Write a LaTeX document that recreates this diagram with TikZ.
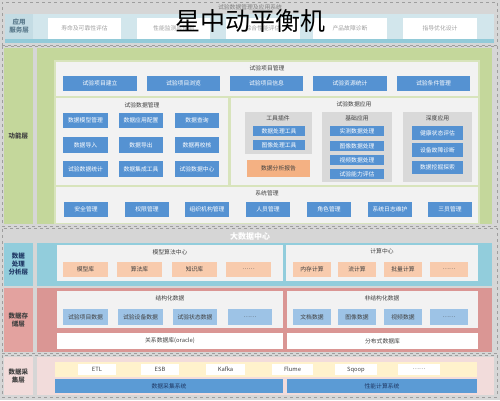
\documentclass[tikz,border=0pt]{standalone}
\usepackage{fontspec}
\setmainfont{Noto Sans CJK SC}
\definecolor{bggray}{HTML}{D6D6D6}
\definecolor{dashcol}{HTML}{9E9E9E}
\definecolor{Lblue}{HTML}{D2E6EC}
\definecolor{Lbluedark}{HTML}{92CAD8}
\definecolor{Lbluelab}{HTML}{C4DCE4}
\definecolor{Llabtext}{HTML}{5A7A8C}
\definecolor{apptext}{HTML}{A0A0A0}
\definecolor{fgreen}{HTML}{C4D79B}
\definecolor{fgreen2}{HTML}{D8E4BC}
\definecolor{panelc}{HTML}{F2F2F2}
\definecolor{subgray}{HTML}{D9D9D9}
\definecolor{btnblue}{HTML}{5592D2}
\definecolor{orng}{HTML}{F4B183}
\definecolor{procblue}{HTML}{92CDDC}
\definecolor{peach}{HTML}{F8CBAD}
\definecolor{redreg}{HTML}{DA9694}
\definecolor{redlab}{HTML}{E3A29F}
\definecolor{lbblue}{HTML}{9DC3E6}
\definecolor{pinkreg}{HTML}{F2DCDB}
\definecolor{yellowb}{HTML}{FFF2CC}
\definecolor{barblue}{HTML}{5B9BD5}
\definecolor{darktext}{HTML}{404040}
\definecolor{navy}{HTML}{1F3864}
\tikzset{
  box/.style={rectangle, inner sep=0pt, outer sep=0pt, align=center, font=\fontsize{5.8}{7}\selectfont},
  layer/.style={box, fill=bggray, draw=dashcol, dashed, line width=0.8pt},
  fbtn/.style={box, fill=btnblue, text=white},
  pbtn/.style={box, fill=peach, text=darktext},
  sbtn/.style={box, fill=lbblue, text=darktext},
  wbox/.style={box, fill=white, text=darktext},
  panel/.style={box, fill=panelc},
  lab/.style={box, font=\fontsize{6.5}{8}\selectfont\bfseries},
  ttl/.style={inner sep=0pt, outer sep=0pt, font=\fontsize{5.8}{7}\selectfont, text=darktext}
}
\newcommand\bx[7]{\node[#6, minimum width={(#4-#2)*1pt}, minimum height={(#5-#3)*1pt}] (#1) at ({(#2+#4)/2},{(#3+#5)/2}) {#7};}
\begin{document}
\begin{tikzpicture}[x=1pt,y=-1pt]
\useasboundingbox (0,0) rectangle (500,400);
\fill[bggray] (0,0) rectangle (500,400);
% ---------- application layer
\bx{Lone}{2}{2}{497}{45}{layer}{}
\bx{Loneband}{5}{14}{494}{43}{box,fill=Lblue}{}
\bx{Lonestrip}{5}{39}{494}{43}{box,fill=Lbluedark}{}
\bx{Lonelab}{5}{14}{33}{39}{lab,fill=Lbluelab,text=Llabtext}{应用\\服务层}
\node[ttl,text=gray] (Lonettl) at (250,7) {试验数据管理及应用系统};
\bx{aa}{48}{18}{121}{39}{box,fill=white,text=apptext}{寿命及可靠性评估}
\bx{ab}{137}{18}{210}{39}{box,fill=white,text=apptext}{性能监测与预测}
\bx{ac}{226}{18}{300}{39}{box,fill=white,text=apptext}{综合性能评估}
\bx{ad}{313}{18}{387}{39}{box,fill=white,text=apptext}{产品故障诊断}
\bx{ae}{403}{18}{477}{39}{box,fill=white,text=apptext}{指导优化设计}
% ---------- function layer
\bx{Ltwo}{2}{46}{497}{226}{layer}{}
\bx{flab}{4}{48}{33}{224}{lab,fill=fgreen,text=darktext}{功能层}
\bx{freg}{37}{48}{492}{224}{box,fill=fgreen}{}
\bx{fin}{54}{60}{480}{224}{box,fill=fgreen2}{}
% project management
\bx{pm}{56}{62}{478}{96}{panel}{}
\node[ttl] (pmt) at (267,68) {试验项目管理};
\bx{pma}{63}{76}{137}{91}{fbtn}{试验项目建立}
\bx{pmb}{147}{76}{220}{91}{fbtn}{试验项目浏览}
\bx{pmc}{230}{76}{303}{91}{fbtn}{试验项目信息}
\bx{pmd}{313}{76}{387}{91}{fbtn}{试验资源统计}
\bx{pme}{397}{76}{470}{91}{fbtn}{试验条件管理}
% data management
\bx{dm}{56}{98}{228}{185}{panel}{}
\node[ttl] (dmt) at (142,105) {试验数据管理};
\bx{dma}{63}{113}{108}{128}{fbtn}{数据模型管理}
\bx{dmb}{119}{113}{163}{128}{fbtn}{数据应用配置}
\bx{dmc}{175}{113}{219}{128}{fbtn}{数据查询}
\bx{dmd}{63}{137}{108}{153}{fbtn}{数据导入}
\bx{dme}{119}{137}{163}{153}{fbtn}{数据导出}
\bx{dmf}{175}{137}{219}{153}{fbtn}{数据再校核}
\bx{dmg}{63}{161}{108}{177}{fbtn}{试验数据统计}
\bx{dmh}{119}{161}{163}{177}{fbtn}{数据集成工具}
\bx{dmi}{175}{161}{219}{177}{fbtn}{试验数据中心}
% data application
\bx{da}{231}{98}{478}{185}{panel}{}
\node[ttl] (dat) at (354,104) {试验数据应用};
\bx{tp}{245}{112}{312}{154}{box,fill=subgray}{}
\node[ttl] (tpt) at (278,118) {工具插件};
\bx{tpa}{253}{126}{305}{136}{fbtn}{数据处理工具}
\bx{tpb}{253}{140}{305}{150}{fbtn}{图像处理工具}
\bx{tpc}{247}{160}{310}{177}{box,fill=orng,text=darktext}{数据分析报告}
\bx{ba}{322}{112}{392}{182}{box,fill=subgray}{}
\node[ttl] (bat) at (357,118) {基础应用};
\bx{baa}{330}{126}{384}{136}{fbtn}{实测数据处理}
\bx{bab}{330}{141}{384}{151}{fbtn}{图像数据处理}
\bx{bac}{330}{155}{384}{165}{fbtn}{视频数据处理}
\bx{bad}{330}{169}{384}{179}{fbtn}{试验能力评估}
\bx{de}{403}{112}{472}{182}{box,fill=subgray}{}
\node[ttl] (det) at (437.5,118) {深度应用};
\bx{dea}{412}{126}{463}{140}{fbtn}{健康状态评估}
\bx{deb}{412}{143}{463}{157}{fbtn}{设备故障诊断}
\bx{dec}{412}{161}{463}{174}{fbtn}{数据挖掘探索}
% system management
\bx{sm}{56}{187}{478}{223}{panel}{}
\node[ttl] (smt) at (267,193) {系统管理};
\bx{sma}{64}{202}{108}{217}{fbtn}{安全管理}
\bx{smb}{125}{202}{169}{217}{fbtn}{权限管理}
\bx{smc}{185}{202}{229}{217}{fbtn}{组织机构管理}
\bx{smd}{246}{202}{290}{217}{fbtn}{人员管理}
\bx{sme}{307}{202}{351}{217}{fbtn}{角色管理}
\bx{smf}{368}{202}{412}{217}{fbtn}{系统日志维护}
\bx{smg}{428}{202}{472}{217}{fbtn}{三员管理}
% ---------- big data center
\bx{Lthree}{2}{228}{497}{353}{layer}{}
\node[inner sep=0pt, font=\fontsize{8}{9}\selectfont\bfseries, text=white] (bdt) at (250,236) {大数据中心};
\bx{plab}{4}{243}{33}{286}{lab,fill=procblue,text=navy}{数据\\处理\\分析层}
\bx{preg}{37}{243}{492}{286}{box,fill=procblue}{}
\bx{mc}{57}{245}{283}{281}{panel}{}
\node[ttl] (mct) at (170,252) {模型算法中心};
\bx{mca}{63}{262}{108}{277}{pbtn}{模型库}
\bx{mcb}{117}{262}{162}{277}{pbtn}{算法库}
\bx{mcc}{172}{262}{217}{277}{pbtn}{知识库}
\bx{mcd}{226}{262}{271}{277}{pbtn}{……}
\bx{cc}{286}{245}{478}{281}{panel}{}
\node[ttl] (cct) at (382,251) {计算中心};
\bx{cca}{293}{262}{331}{277}{pbtn}{内存计算}
\bx{ccb}{338}{262}{376}{277}{pbtn}{流计算}
\bx{ccc}{384}{262}{422}{277}{pbtn}{批量计算}
\bx{ccd}{430}{262}{468}{277}{pbtn}{……}
% storage
\bx{slab}{4}{288}{33}{352}{lab,fill=redlab,text=darktext}{数据存\\储层}
\bx{sreg}{37}{288}{492}{352}{box,fill=redreg}{}
\bx{st}{57}{291}{283}{328}{panel}{}
\node[ttl] (stt) at (170,298) {结构化数据};
\bx{sta}{63}{309}{108}{325}{sbtn}{试验项目数据}
\bx{stb}{118}{309}{163}{325}{sbtn}{试验设备数据}
\bx{stc}{173}{309}{217}{325}{sbtn}{试验状态数据}
\bx{std}{228}{309}{272}{325}{sbtn}{……}
\bx{rel}{57}{333}{283}{349}{wbox}{关系数据库(oracle)}
\bx{us}{287}{291}{478}{328}{panel}{}
\node[ttl] (ust) at (382,298) {非结构化数据};
\bx{usa}{293}{309}{331}{325}{sbtn}{文档数据}
\bx{usb}{338}{309}{376}{325}{sbtn}{图像数据}
\bx{usc}{384}{309}{422}{325}{sbtn}{视频数据}
\bx{usd}{430}{309}{468}{325}{sbtn}{……}
\bx{dist}{287}{333}{478}{349}{wbox}{分布式数据库}
% ---------- collection
\bx{Lfour}{2}{355}{497}{397}{layer}{}
\bx{clab}{4}{357}{33}{395}{lab,fill=pinkreg,text=darktext}{数据采\\集层}
\bx{creg}{37}{357}{494}{395}{box,fill=pinkreg}{}
\bx{yb}{55}{362}{477}{377}{box,fill=yellowb}{}
\bx{ca}{78}{364}{116}{375}{wbox}{ETL}
\bx{cb}{141}{364}{179}{375}{wbox}{ESB}
\bx{ccx}{206}{364}{245}{375}{wbox}{Kafka}
\bx{cd}{272}{364}{313}{375}{wbox}{Flume}
\bx{ce}{335}{364}{377}{375}{wbox}{Sqoop}
\bx{cf}{398}{364}{440}{375}{wbox}{……}
\bx{bara}{55}{379}{283}{393}{box,fill=barblue,text=navy}{数据采集系统}
\bx{barb}{287}{379}{477}{393}{box,fill=barblue,text=navy}{性能计算系统}
% ---------- title
\node[inner sep=0pt, font=\fontsize{25}{25}\selectfont, text=black] (title) at (250,21) {星中动平衡机};
\end{tikzpicture}
\end{document}
